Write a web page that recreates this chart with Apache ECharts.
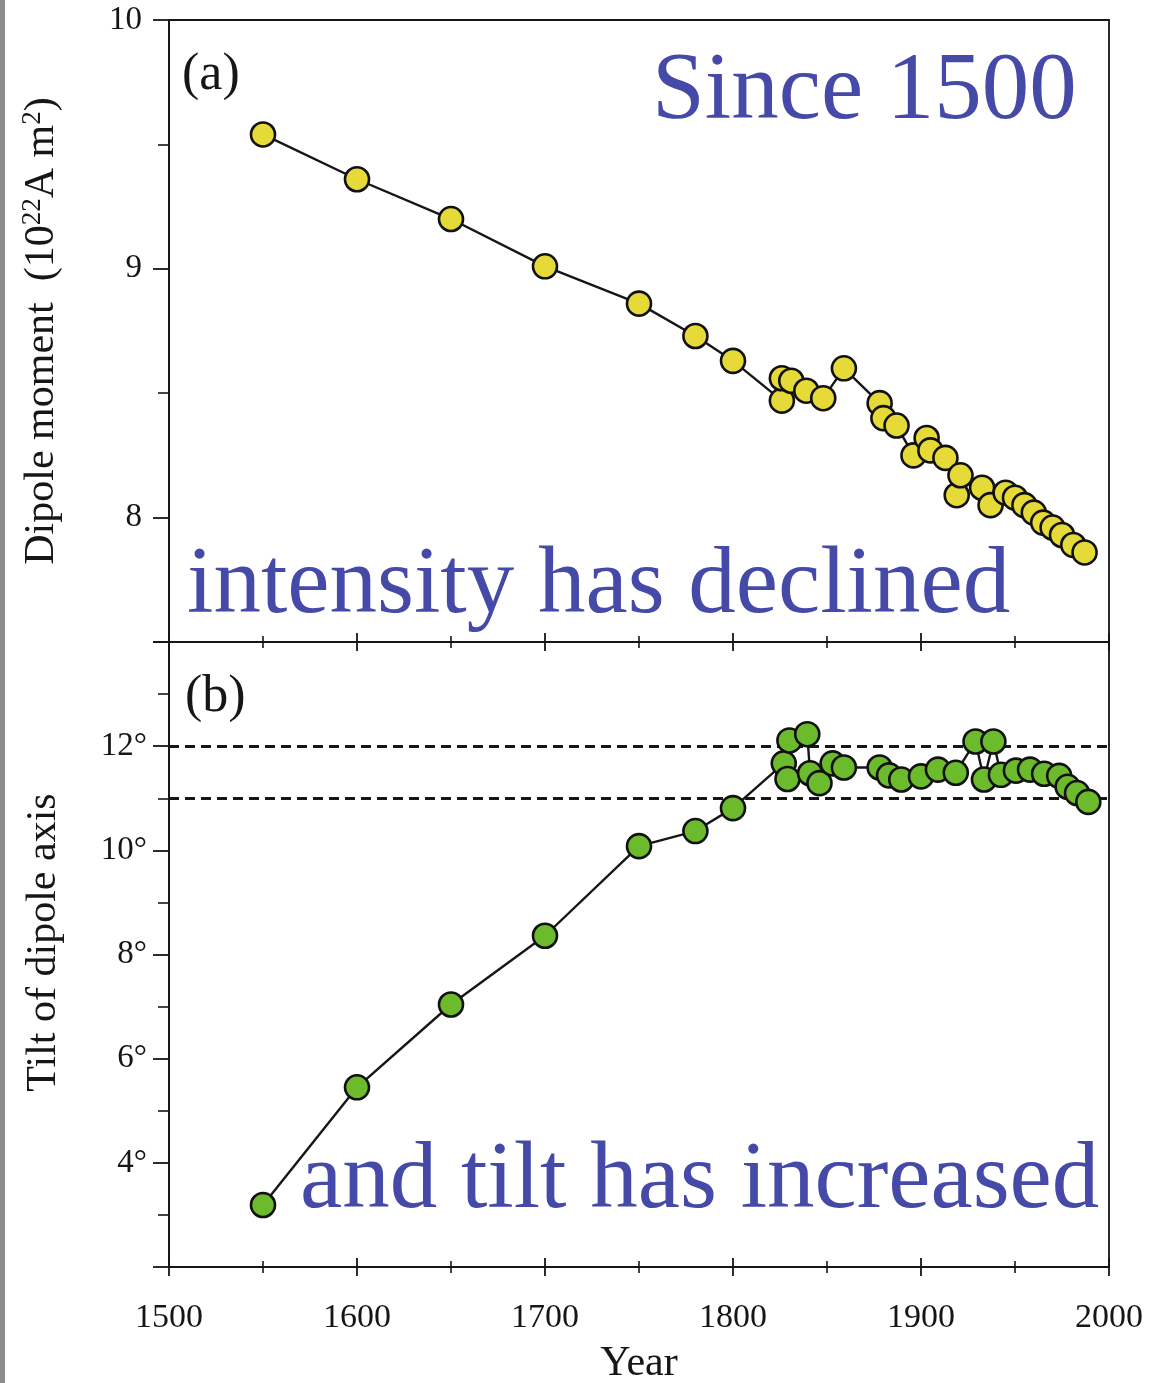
<!DOCTYPE html>
<html>
<head>
<meta charset="utf-8">
<script src="https://cdn.jsdelivr.net/npm/echarts@6/dist/echarts.min.js"></script>
<style>
  html, body { margin: 0; padding: 0; background: #fff; }
  #chart { width: 1169px; height: 1383px; }
</style>
</head>
<body>
<div id="chart"></div>
<script>
// Geomagnetic dipole since 1500: (a) dipole moment, (b) tilt of the dipole axis
const dipoleYears = [1550, 1600, 1650, 1700, 1750, 1780, 1800, 1826, 1826, 1831, 1839, 1848, 1859,
  1878, 1880, 1887, 1896, 1903, 1905, 1913, 1919, 1921, 1932.5, 1937, 1945, 1950, 1955, 1960,
  1965, 1970, 1975, 1981, 1987];
const dipoleMoment = [9.54, 9.36, 9.20, 9.01, 8.86, 8.73, 8.63, 8.47, 8.56, 8.55, 8.51, 8.48, 8.60,
  8.46, 8.40, 8.37, 8.25, 8.32, 8.27, 8.24, 8.09, 8.17, 8.12, 8.05, 8.10, 8.08, 8.05, 8.02,
  7.98, 7.96, 7.93, 7.89, 7.86];

const tiltYears = [1550, 1600, 1650, 1700, 1750, 1780, 1800, 1827, 1829, 1830, 1839.5, 1841, 1846,
  1853, 1859, 1878, 1883, 1889.5, 1900, 1909, 1918.5, 1929, 1933.5, 1938.5, 1942.5, 1950.5, 1958,
  1965.5, 1973.5, 1978, 1983, 1989];
const tiltDeg = [3.19, 5.45, 7.04, 8.36, 10.08, 10.37, 10.81, 11.67, 11.37, 12.11, 12.23, 11.48, 11.29,
  11.67, 11.59, 11.59, 11.44, 11.36, 11.42, 11.55, 11.49, 12.09, 11.36, 12.09, 11.45, 11.53, 11.55,
  11.47, 11.43, 11.22, 11.10, 10.93];

// reference band for the tilt panel (dashed lines)
const tiltBand = [12, 11];

// axis ticks
const momentLabels = [8, 9, 10];
const momentMajorTicks = [7.5, 8, 9, 10];
const momentMinorTicks = [8.5, 9.5];

const SERIF = '"Liberation Serif", "DejaVu Serif", serif';
const INK = '#161616';
const AXIS_W = 1.8;

const chart = echarts.init(document.getElementById('chart'), null, { renderer: 'canvas' });

function zip(xs, ys) { return xs.map((x, i) => [x, ys[i]]); }

function yearAxis(gridIndex, inside, showLabels, name) {
  return {
    type: 'value', gridIndex, position: 'bottom',
    min: 1500, max: 2000, interval: 100,
    axisLine: { show: !inside, onZero: false, lineStyle: { color: INK, width: AXIS_W } },
    axisTick: { show: true, inside, length: 9, lineStyle: { color: INK, width: 1.8 } },
    minorTick: { show: true, splitNumber: 2, length: 6, lineStyle: { color: INK, width: 1.6 } },
    axisLabel: {
      show: showLabels, margin: 34, color: INK,
      fontFamily: SERIF, fontSize: 34,
      formatter: v => String(v)
    },
    splitLine: { show: false },
    name: name || '',
    nameLocation: 'middle', nameGap: 76,
    nameTextStyle: { fontFamily: SERIF, fontSize: 42, color: INK }
  };
}

const gridBase = {
  left: 169, width: 940, show: true, borderColor: INK, borderWidth: AXIS_W,
  backgroundColor: 'transparent', containLabel: false, outerBoundsMode: 'none'
};

const option = {
  backgroundColor: '#ffffff',
  animation: false,
  grid: [
    Object.assign({}, gridBase, { top: 20, height: 622 }),
    Object.assign({}, gridBase, { top: 642, height: 625 })
  ],
  xAxis: [
    yearAxis(0, false, false),
    yearAxis(0, true, false),
    yearAxis(1, false, true, 'Year'),
    yearAxis(1, true, false)
  ],
  yAxis: [
    {
      type: 'value', gridIndex: 0, position: 'left',
      min: 7.5, max: 10, interval: 0.5,
      axisLine: { show: true, onZero: false, lineStyle: { color: INK, width: AXIS_W } },
      axisTick: { show: true, length: 16, customValues: momentMajorTicks, lineStyle: { color: INK, width: 1.8 } },
      axisLabel: { show: true, customValues: momentLabels, margin: 27, color: INK, fontFamily: SERIF, fontSize: 33 },
      splitLine: { show: false },
      name: '{n|Dipole moment  (10}{s|22}{n|A m}{s|2}{n|)}',
      nameLocation: 'middle', nameGap: 104,
      nameTextStyle: {
        color: INK,
        rich: {
          n: { fontFamily: SERIF, fontSize: 42, color: INK, lineHeight: 46 },
          s: { fontFamily: SERIF, fontSize: 27, color: INK, verticalAlign: 'top', lineHeight: 46 }
        }
      }
    },
    {
      type: 'value', gridIndex: 0, position: 'left',
      min: 7.5, max: 10, interval: 0.5,
      axisLine: { show: false },
      axisTick: { show: true, length: 11, customValues: momentMinorTicks, lineStyle: { color: INK, width: 1.6 } },
      axisLabel: { show: false },
      splitLine: { show: false }
    },
    {
      type: 'value', gridIndex: 1, position: 'left',
      min: 2, max: 14, interval: 2,
      axisLine: { show: true, onZero: false, lineStyle: { color: INK, width: AXIS_W } },
      axisTick: { show: true, length: 16, lineStyle: { color: INK, width: 1.8 } },
      minorTick: { show: true, splitNumber: 2, length: 11, lineStyle: { color: INK, width: 1.6 } },
      axisLabel: {
        margin: 22, color: INK, fontFamily: SERIF, fontSize: 33,
        formatter: v => (v === 2 || v === 14) ? '' : v + '°'
      },
      splitLine: { show: false },
      name: 'Tilt of dipole axis',
      nameLocation: 'middle', nameGap: 104,
      nameTextStyle: { fontFamily: SERIF, fontSize: 42, color: INK, padding: [0, 0, 0, 24] }
    }
  ],
  graphic: [
    { type: 'rect', left: 0, top: 0, shape: { width: 5, height: 1383 }, style: { fill: '#8d8d8d' }, silent: true },
    { type: 'text', x: 182, y: 75, style: { text: '(a)', font: '52px ' + SERIF, fill: INK, verticalAlign: 'middle' }, z: 10 },
    { type: 'text', x: 185, y: 697, style: { text: '(b)', font: '52px ' + SERIF, fill: INK, verticalAlign: 'middle' }, z: 10 },
    { type: 'text', x: 652, y: 93, style: { text: 'Since 1500', font: '95px ' + SERIF, fill: '#4549a8', verticalAlign: 'middle' }, z: 10 },
    { type: 'text', x: 187, y: 587, style: { text: 'intensity has declined', font: '95px ' + SERIF, fill: '#4549a8', verticalAlign: 'middle' }, z: 10 },
    { type: 'text', x: 300, y: 1182, style: { text: 'and tilt has increased', font: '95px ' + SERIF, fill: '#4549a8', verticalAlign: 'middle' }, z: 10 }
  ],
  series: [
    {
      type: 'line', xAxisIndex: 2, yAxisIndex: 2, data: [], z: 1, silent: true,
      markLine: {
        silent: true, symbol: ['none', 'none'], label: { show: false },
        lineStyle: { type: [10, 6], color: INK, width: 2.8 },
        data: tiltBand.map(v => ({ yAxis: v }))
      }
    },
    {
      name: 'Dipole moment', type: 'line', xAxisIndex: 0, yAxisIndex: 0, z: 5,
      data: zip(dipoleYears, dipoleMoment),
      symbol: 'circle', symbolSize: 24, clip: false,
      lineStyle: { color: INK, width: 2.4 },
      itemStyle: { color: '#e6da38', borderColor: '#111', borderWidth: 2.6 }
    },
    {
      name: 'Tilt', type: 'line', xAxisIndex: 2, yAxisIndex: 2, z: 5,
      data: zip(tiltYears, tiltDeg),
      symbol: 'circle', symbolSize: 24, clip: false,
      lineStyle: { color: INK, width: 2.4 },
      itemStyle: { color: '#6cbb2c', borderColor: '#111', borderWidth: 2.6 }
    }
  ]
};

chart.setOption(option);
</script>
</body>
</html>
